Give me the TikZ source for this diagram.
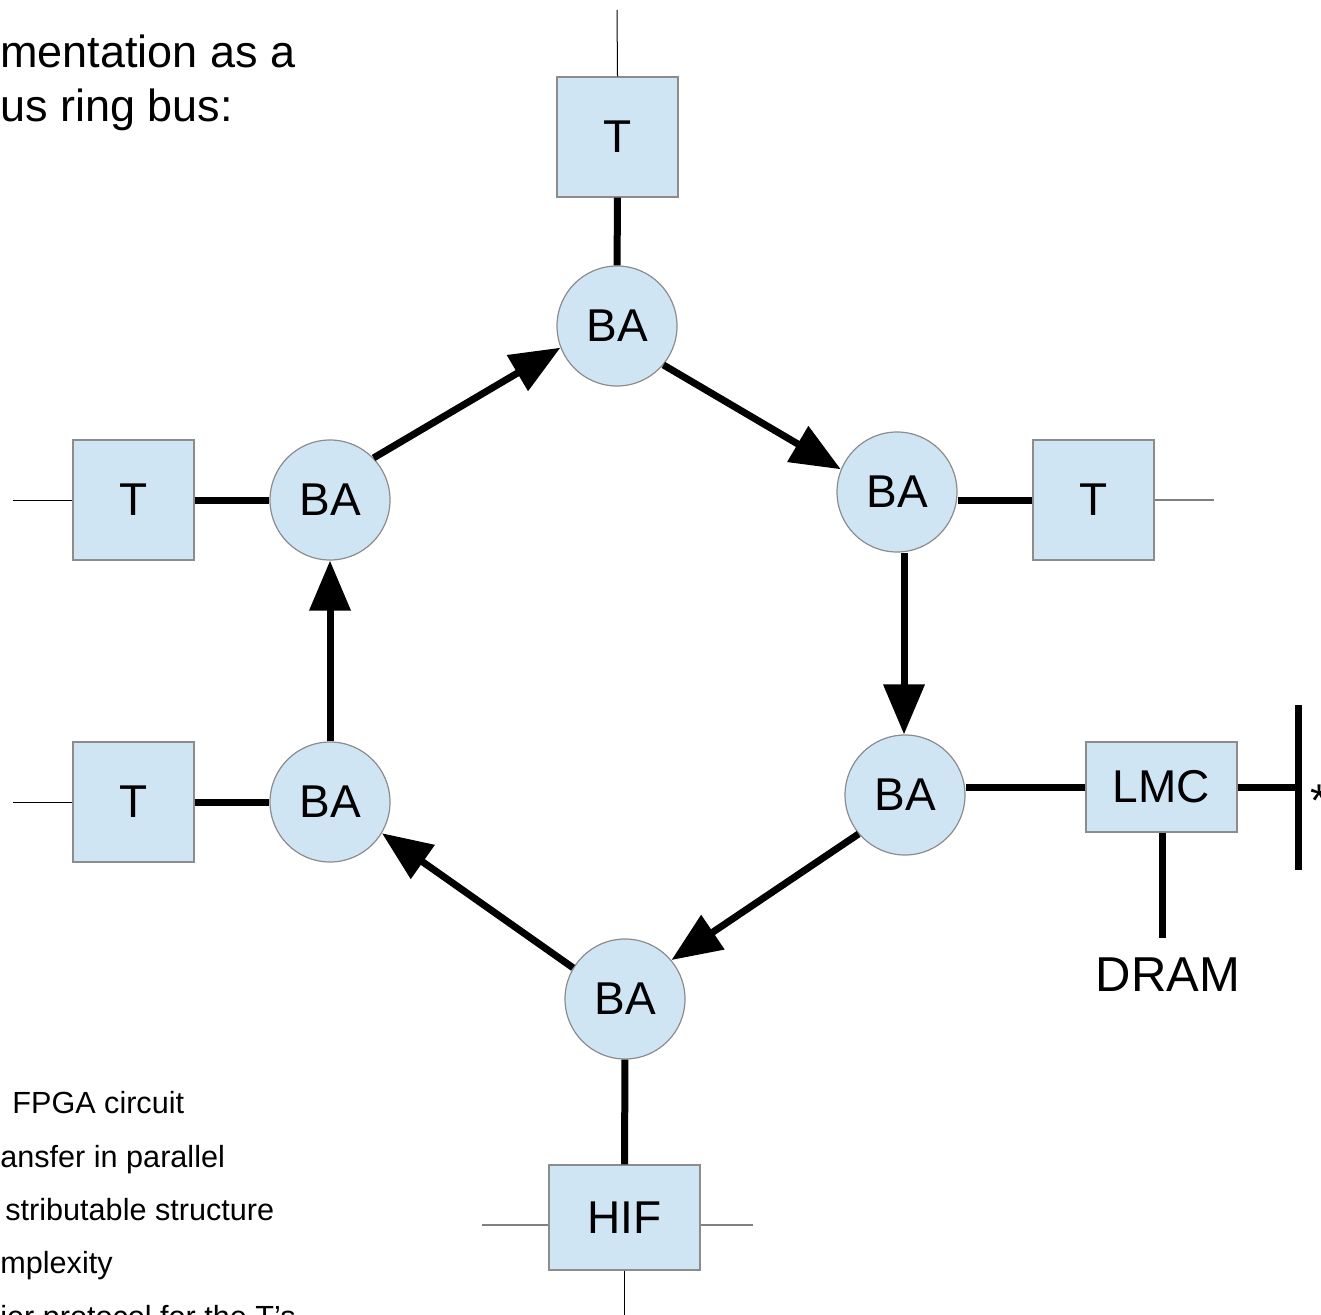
\documentclass[tikz,border=0pt]{standalone}
\usepackage{fontspec}
\setmainfont{Liberation Sans}
\usetikzlibrary{arrows.meta}

\definecolor{boxfill}{HTML}{CFE5F3}
\definecolor{edgegray}{HTML}{8C8C8C}

\begin{document}
\begin{tikzpicture}[x=0.5pt,y=-0.5pt,
  unit/.style={draw=edgegray, line width=0.6pt, fill=boxfill, inner sep=0pt,
               font=\fontsize{23}{27}\selectfont},
  tbox/.style={unit, rectangle, minimum width=60.5pt, minimum height=60pt},
  wbox/.style={unit, rectangle, minimum width=75.5pt},
  ba/.style={unit, circle, minimum size=60pt},
  bus/.style={line width=3.5pt},
  ring/.style={bus, -{Triangle[length=25pt,width=20pt]}},
  wire/.style={line width=0.5pt},
  greywire/.style={line width=0.7pt, draw=gray},
  title/.style={anchor=base west, inner sep=0pt, font=\fontsize{22.5}{27}\selectfont},
  bullet/.style={anchor=base west, inner sep=0pt, font=\fontsize{15.3}{19}\selectfont},
  ]
\useasboundingbox (0,0) rectangle (1321,1315);
\clip (0,0) rectangle (1321,1315);

% heading
\node[title] (h1) at (0,68) {mentation as a};
\node[title] (h2) at (0,122) {us ring bus:};

% list at the lower left
\node[bullet] (l1) at (12,1113) {FPGA circuit};
\node[bullet] (l2) at (0,1167) {ansfer in parallel};
\node[bullet] (l3) at (5,1220) {stributable structure};
\node[bullet] (l4) at (0,1273) {mplexity};
\node[bullet] (l5) at (0,1327) {ier protocol for the T's};

% terminals
\node[tbox] (tt) at (617.5,137) {T};
\node[tbox] (tl) at (133.5,500) {T};
\node[tbox] (tr) at (1093.5,500) {T};
\node[tbox] (tb) at (133.5,802) {T};
\node[wbox, minimum height=45pt] (lmc) at (1161.5,787) {LMC};
\node[wbox, minimum height=52.5pt] (hif) at (624.5,1217.5) {HIF};

% bus adapters
\node[ba] (ba1) at (617,326) {BA};
\node[ba] (ba2) at (897,492) {BA};
\node[ba] (ba3) at (905,795) {BA};
\node[ba] (ba4) at (625,999) {BA};
\node[ba] (ba5) at (330,802) {BA};
\node[ba] (ba6) at (330,500) {BA};

% ring
\draw[ring] (ba6.44) -- (ba1.201);
\draw[ring] (ba1.-40) -- (ba2.158);
\draw[ring] (904,553) -- (ba3.north -| 904,0);
\draw[ring] (ba3.220) -- (ba4.40);
\draw[ring] (ba4.149) -- (ba5.-31);
\draw[ring] (ba5) -- (ba6);

% adapter links
\draw[bus] (tt) -- (ba1);
\draw[bus] (tl) -- (ba6);
\draw[bus] (tb) -- (ba5);
\draw[bus] (tr.west) -- (tr.west -| ba2.east);
\draw[bus] (lmc.west) -- (lmc.west -| ba3.east);
\draw[bus] (ba4) -- (hif);

% memory side
\coordinate (dramend) at (1162,938);
\coordinate (bartop) at (1298,705);
\coordinate (barbot) at (1298,870);
\draw[bus] (lmc.south -| dramend) -- (dramend);
\draw[bus] (lmc.east) -- (lmc.east -| bartop);
\draw[bus] (bartop) -- (barbot);
\node[anchor=base, inner sep=0pt, font=\fontsize{24.5}{29}\selectfont] (dram) at (1168,991) {DRAM};
\node[anchor=base west, inner sep=0pt, font=\fontsize{23}{27}\selectfont] (star) at (1310,816) {*};

% outer connections
\coordinate (ttop) at (617,10);
\coordinate (tlend) at (13,500);
\coordinate (tbend) at (13,802);
\coordinate (trend) at (1214,500);
\coordinate (hifl) at (482,1225);
\coordinate (hifr) at (753,1225);
\coordinate (hifd) at (624,1315);
\draw[wire] (tt.north) -- (ttop);
\draw[wire] (tl.west) -- (tlend);
\draw[wire] (tb.west) -- (tbend);
\draw[greywire] (tr.east) -- (trend);
\draw[greywire] (hifl) -- (hifl -| hif.west);
\draw[greywire] (hifr) -- (hifr -| hif.east);
\draw[wire] (hif.south -| hifd) -- (hifd);
\end{tikzpicture}
\end{document}
